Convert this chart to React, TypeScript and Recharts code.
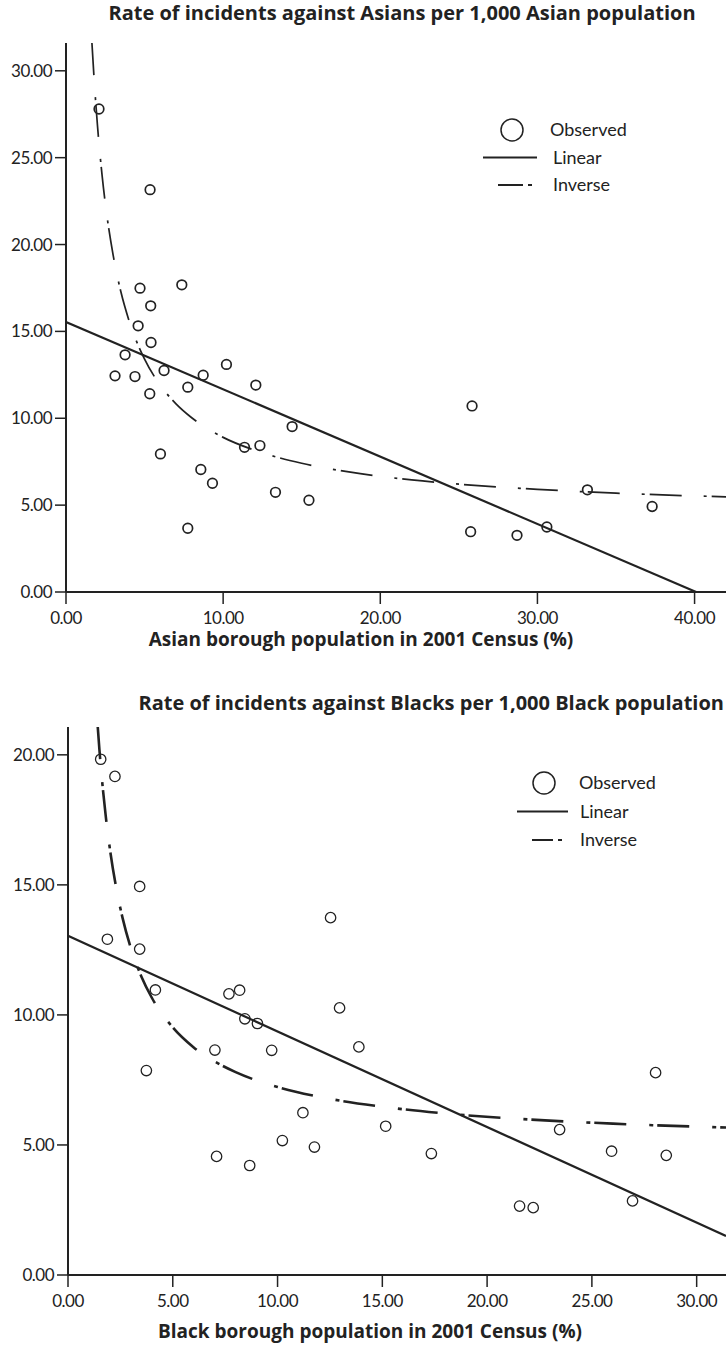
import React from 'react'
import { ComposedChart, Scatter, Line, XAxis, YAxis } from 'recharts'

// Asian population share (%) vs incidents per 1,000 Asian population
const asianPct = [
  2.1, 5.35, 4.71, 7.37, 5.39, 4.59, 5.41, 3.76, 6.24, 3.12, 4.39, 8.73, 10.21, 7.75, 12.08, 5.33,
  14.39, 11.36, 12.34, 6.01, 8.58, 9.32, 13.33, 15.46, 7.75, 25.84, 33.18, 37.3, 25.75, 28.7, 30.6,
]
const asianRate = [
  27.8, 23.16, 17.49, 17.68, 16.47, 15.32, 14.36, 13.65, 12.75, 12.44, 12.4, 12.48, 13.1, 11.79, 11.91, 11.41,
  9.52, 8.33, 8.43, 7.95, 7.05, 6.26, 5.74, 5.28, 3.67, 10.71, 5.88, 4.92, 3.47, 3.26, 3.74,
]
const asianLinX = [0, 40.1]
const asianLinY = [15.54, 0]
const asianInvX = [1.65, 1.8, 2.0, 2.3, 2.6, 3.0, 3.5, 4, 5, 6, 7, 8, 10, 12, 15, 18, 22, 26, 30, 35, 40, 42]
const asianInvY = [
  31.6, 29.38, 26.88, 23.95, 21.69, 19.39, 17.25, 15.65, 13.4, 11.9, 10.83, 10.03, 8.9, 8.16, 7.41, 6.91,
  6.45, 6.14, 5.91, 5.69, 5.53, 5.48,
]

// Black population share (%) vs incidents per 1,000 Black population
const blackPct = [
  1.56, 2.24, 3.42, 1.88, 3.42, 12.53, 4.17, 7.68, 8.19, 8.44, 9.04, 12.96, 13.88, 7.01, 9.72, 3.74,
  11.21, 15.16, 10.23, 11.76, 7.09, 8.67, 17.34, 23.46, 28.04, 25.94, 28.55, 21.55, 22.2, 26.94,
]
const blackRate = [
  19.83, 19.17, 14.94, 12.91, 12.53, 13.74, 10.96, 10.81, 10.95, 9.85, 9.67, 10.27, 8.77, 8.65, 8.64, 7.86,
  6.24, 5.72, 5.17, 4.92, 4.56, 4.21, 4.67, 5.59, 7.78, 4.76, 4.6, 2.65, 2.59, 2.85,
]
const blackLinX = [0, 31.4]
const blackLinY = [13.04, 1.5]
const blackInvX = [1.42, 1.5, 1.6, 1.8, 2.0, 2.3, 2.6, 3.0, 3.5, 4, 5, 6, 7, 8, 10, 12, 15, 18, 22, 26, 31.4]
const blackInvY = [
  21.07, 20.19, 19.24, 17.65, 16.38, 14.89, 13.74, 12.57, 11.48, 10.66, 9.52, 8.75, 8.21, 7.8, 7.23, 6.85,
  6.47, 6.21, 5.98, 5.82, 5.67,
]

const asianXTicks = [0, 10, 20, 30, 40]
const asianYTicks = [0, 5, 10, 15, 20, 25, 30]
const blackXTicks = [0, 5, 10, 15, 20, 25, 30]
const blackYTicks = [0, 5, 10, 15, 20]

const legendLabels = ['Observed', 'Linear', 'Inverse']

const FONT = 'Lato, "Open Sans", sans-serif'
const BOLD_FONT = '"Open Sans", Lato, sans-serif'
const INK = '#222'

const pairs = (xs: number[], ys: number[]) => xs.map((x, i) => ({ x, y: ys[i] }))
const fmt = (v: number) => v.toFixed(2)

type PanelProps = {
  top: number
  height: number
  marginTop: number
  yAxisWidth: number
  xMax: number
  yMax: number
  xTicks: number[]
  yTicks: number[]
  points: { x: number; y: number }[]
  linear: { x: number; y: number }[]
  inverse: { x: number; y: number }[]
  dotR: number
  dotW: number
  linW: number
  invW: number
  invDash: string
}

type LegendProps = {
  left: number
  top: number
  gap: number
  circleX: number
  lineX: [number, number]
  dashX: [number, number]
  dotX: [number, number]
  textX: number
  obsTextX: number
}

// legend overlay, coordinates relative to its own box
function LegendBox(l: LegendProps) {
  const rows = [0, 1, 2].map((i) => i * l.gap + 12)
  return (
    <svg
      width={240}
      height={l.gap * 2 + 26}
      style={{ position: 'absolute', left: l.left, top: l.top, overflow: 'visible' }}
    >
      <circle cx={l.circleX} cy={rows[0]} r={11} fill="none" stroke={INK} strokeWidth={1.5} />
      <line x1={l.lineX[0]} x2={l.lineX[1]} y1={rows[1]} y2={rows[1]} stroke={INK} strokeWidth={2} />
      <line x1={l.dashX[0]} x2={l.dashX[1]} y1={rows[2]} y2={rows[2]} stroke={INK} strokeWidth={2} />
      <line x1={l.dotX[0]} x2={l.dotX[1]} y1={rows[2]} y2={rows[2]} stroke={INK} strokeWidth={2} />
      {legendLabels.map((t, i) => (
        <text
          key={t}
          x={i === 0 ? l.obsTextX : l.textX}
          y={rows[i]}
          dy="0.35em"
          fontSize={18}
          fontFamily={FONT}
          fill={INK}
        >
          {t}
        </text>
      ))}
    </svg>
  )
}

function Panel(p: PanelProps) {
  const dot = (props: any) => (
    <circle cx={props.cx} cy={props.cy} r={p.dotR} fill="none" stroke={INK} strokeWidth={p.dotW} />
  )
  const tick = { fontSize: 17, fontFamily: FONT, fill: INK, letterSpacing: -0.5 }
  return (
    <div style={{ position: 'absolute', left: 0, top: p.top }}>
      <ComposedChart
        width={726}
        height={p.height}
        margin={{ top: p.marginTop, right: 0, bottom: 0, left: 0 }}
      >
        <XAxis
          dataKey="x"
          type="number"
          domain={[0, p.xMax]}
          ticks={p.xTicks}
          tickFormatter={fmt}
          allowDataOverflow
          height={36}
          tickSize={12}
          tickMargin={8}
          tick={tick}
          axisLine={{ stroke: INK, strokeWidth: 2 }}
          tickLine={{ stroke: INK, strokeWidth: 1.5 }}
        />
        <XAxis
          xAxisId="frame"
          orientation="top"
          type="number"
          domain={[0, p.xMax]}
          height={0}
          tick={false}
          tickLine={false}
          axisLine={{ stroke: '#777', strokeWidth: 1.5 }}
        />
        <YAxis
          dataKey="y"
          type="number"
          domain={[0, p.yMax]}
          ticks={p.yTicks}
          tickFormatter={fmt}
          allowDataOverflow
          width={p.yAxisWidth}
          tickSize={11}
          tickMargin={3}
          tick={tick}
          axisLine={{ stroke: INK, strokeWidth: 2 }}
          tickLine={{ stroke: INK, strokeWidth: 1.5 }}
        />
        <Line
          data={p.linear}
          dataKey="y"
          type="linear"
          stroke={INK}
          strokeWidth={p.linW}
          dot={false}
          activeDot={false}
          isAnimationActive={false}
        />
        <Line
          data={p.inverse}
          dataKey="y"
          type="monotone"
          stroke={INK}
          strokeWidth={p.invW}
          strokeDasharray={p.invDash}
          dot={false}
          activeDot={false}
          isAnimationActive={false}
        />
        <Scatter data={p.points} dataKey="y" shape={dot} isAnimationActive={false} />
      </ComposedChart>
    </div>
  )
}

const titleStyle: React.CSSProperties = {
  position: 'absolute',
  transform: 'translateX(-50%)',
  whiteSpace: 'nowrap',
  fontFamily: BOLD_FONT,
  fontWeight: 700,
  color: INK,
  lineHeight: 1,
}

export default function App() {
  return (
    <div
      style={{
        position: 'absolute',
        left: 0,
        top: 0,
        width: 726,
        height: 1354,
        background: '#fff',
        overflow: 'hidden',
      }}
    >
      <div style={{ ...titleStyle, left: 402, top: 3, fontSize: 20 }}>
        Rate of incidents against Asians per 1,000 Asian population
      </div>
      <Panel
        top={0}
        height={628}
        marginTop={43}
        yAxisWidth={66}
        xMax={42}
        yMax={31.6}
        xTicks={asianXTicks}
        yTicks={asianYTicks}
        points={pairs(asianPct, asianRate)}
        linear={pairs(asianLinX, asianLinY)}
        inverse={pairs(asianInvX, asianInvY)}
        dotR={4.8}
        dotW={1.7}
        linW={2.2}
        invW={1.7}
        invDash="32 22 3 5"
      />
      <LegendBox
        left={480}
        top={118}
        gap={27.5}
        circleX={32}
        lineX={[3, 57]}
        dashX={[18, 43]}
        dotX={[48, 52]}
        textX={73}
        obsTextX={70}
      />
      <div style={{ ...titleStyle, left: 361, top: 630, fontSize: 19 }}>
        Asian borough population in 2001 Census (%)
      </div>

      <div
        style={{
          ...titleStyle,
          transform: 'none',
          left: 'auto',
          right: 2,
          top: 693,
          fontSize: 20,
        }}
      >
        Rate of incidents against Blacks per 1,000 Black population
      </div>
      <Panel
        top={680}
        height={631}
        marginTop={47}
        yAxisWidth={68}
        xMax={31.4}
        yMax={21.07}
        xTicks={blackXTicks}
        yTicks={blackYTicks}
        points={pairs(blackPct, blackRate)}
        linear={pairs(blackLinX, blackLinY)}
        inverse={pairs(blackInvX, blackInvY)}
        dotR={5.2}
        dotW={1.3}
        linW={2.2}
        invW={2.6}
        invDash="32 23 4 4"
      />
      <LegendBox
        left={510}
        top={770.5}
        gap={28.5}
        circleX={34}
        lineX={[7, 58]}
        dashX={[22, 43]}
        dotX={[48, 52]}
        textX={70}
        obsTextX={69}
      />
      <div style={{ ...titleStyle, left: 370, top: 1322, fontSize: 19 }}>
        Black borough population in 2001 Census (%)
      </div>
    </div>
  )
}
